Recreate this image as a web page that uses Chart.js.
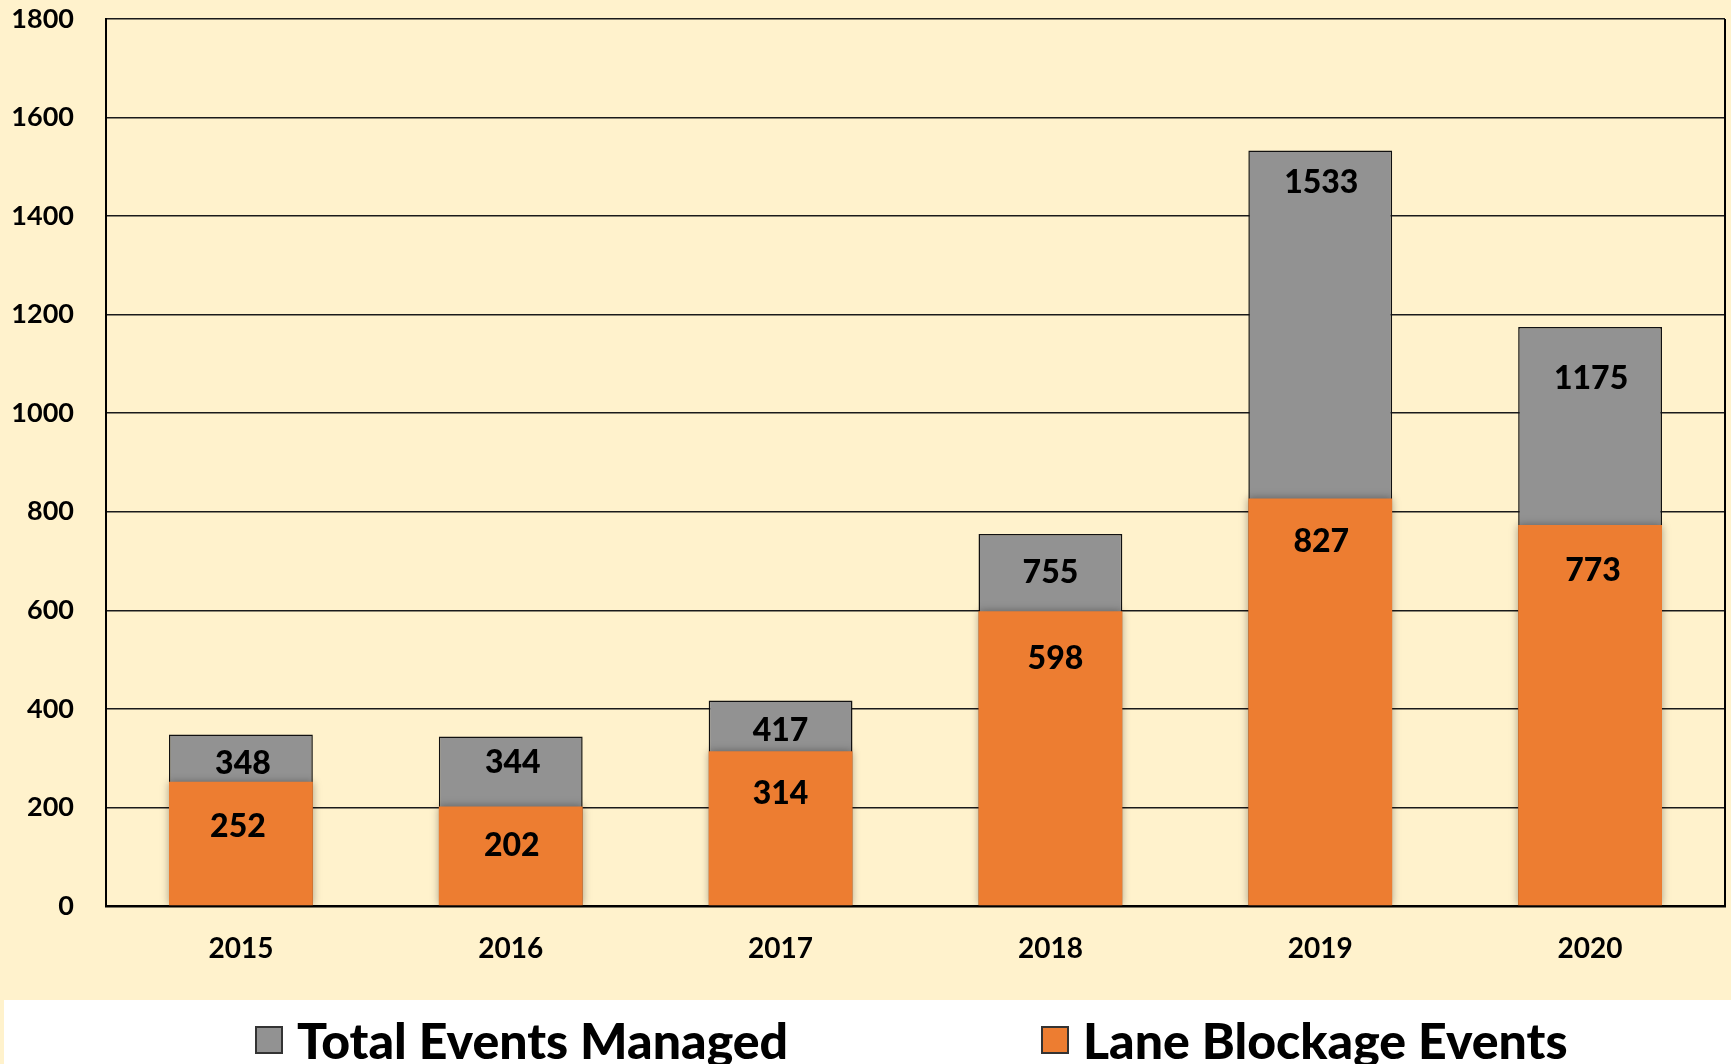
<!DOCTYPE html>
<html><head><meta charset="utf-8">
<script src="https://cdn.jsdelivr.net/npm/chart.js@4.4.0/dist/chart.umd.min.js"></script>
<style>
html,body{margin:0;padding:0;background:#FFF2CC;width:1731px;height:1064px;overflow:hidden;font-family:Lato,sans-serif;}
#wrap{position:absolute;left:0;top:0;width:1731px;height:1000px;}
#legend{position:absolute;left:4px;top:1000px;width:1727px;height:64px;background:#fff;overflow:hidden;}
.item{position:absolute;top:10px;height:60px;display:flex;align-items:center;font-weight:900;font-size:50px;color:#000;white-space:nowrap;}
.box{width:28px;height:28px;border:2px solid #333;margin-right:14px;box-sizing:border-box;}
</style></head>
<body>
<div id="wrap"><canvas id="c" width="1731" height="1000"></canvas></div>
<div id="legend"></div>
<script>
const categories = ['2015','2016','2017','2018','2019','2020'];
const totalEvents = [348, 344, 417, 755, 1533, 1175];
const laneBlockage = [252, 202, 314, 598, 827, 773];
const seriesNames = ['Total Events Managed', 'Lane Blockage Events'];
const seriesColors = ['#929292', '#ED7D31'];
const yMax = 1800, yStep = 200;

const labelPlugin = {
  id: 'valueLabels',
  afterDatasetsDraw(chart, args, opts) {
    const ctx = chart.ctx;
    ctx.save();
    ctx.font = '900 32px Lato';
    ctx.fillStyle = '#000';
    ctx.textAlign = 'center';
    ctx.textBaseline = 'middle';
    chart.data.datasets.forEach((ds, i) => {
      const meta = chart.getDatasetMeta(i);
      const dy = opts.dy[i], dx = opts.dx[i];
      meta.data.forEach((bar, j) => {
        ctx.fillText(String(ds.data[j]), bar.x + dx[j], bar.y + dy[j]);
      });
    });
    ctx.restore();
  }
};
const framePlugin = {
  id: 'frame',
  beforeDatasetDraw(chart, args) {
    if (args.index === 1) {
      const ctx = chart.ctx;
      ctx.save();
      ctx.shadowColor = 'rgba(0,0,0,0.35)';
      ctx.shadowBlur = 8;
    }
  },
  afterDatasetDraw(chart, args) {
    if (args.index === 1) chart.ctx.restore();
  },
  afterDraw(chart) {
    const {ctx, chartArea} = chart;
    ctx.save();
    ctx.strokeStyle = '#000';
    ctx.lineWidth = 2;
    ctx.beginPath();
    ctx.moveTo(chartArea.right, chartArea.top);
    ctx.lineTo(chartArea.right, chartArea.bottom);
    ctx.stroke();
    ctx.restore();
  }
};

new Chart(document.getElementById('c'), {
  type: 'bar',
  data: {
    labels: categories,
    datasets: [
      { label: seriesNames[0], data: totalEvents, backgroundColor: seriesColors[0], borderColor: '#111', borderWidth: 1.5, order: 2, grouped: false },
      { label: seriesNames[1], data: laneBlockage, backgroundColor: seriesColors[1], borderWidth: 0, order: 1, grouped: false }
    ]
  },
  options: {
    responsive: false,
    devicePixelRatio: 1,
    animation: false,
    layout: { padding: { top: 19, right: 6, left: 0, bottom: 0 } },
    datasets: { bar: { categoryPercentage: 1, barPercentage: 0.533 } },
    plugins: {
      legend: { display: false }, tooltip: { enabled: false },
      valueLabels: {
        dy: [[29, 26, 30, 39, 32, 52], [45, 39, 42, 47, 43, 46]],
        dx: [[2, 2, 0, 0, 1, 1], [-3, 1, 0, 5, 1, 3]]
      }
    },
    scales: {
      x: {
        grid: { display: false, drawTicks: false },
        border: { display: true, color: '#000', width: 2.5 },
        ticks: { color: '#000', font: { family: 'Lato', weight: 'bold', size: 28 }, padding: 26 },
        afterFit(s) { s.height = 94; s.paddingLeft = 0; s.paddingRight = 0; }
      },
      y: {
        min: 0, max: yMax,
        grid: { color: '#1a1a1a', lineWidth: 1.5, drawTicks: false },
        border: { display: true, color: '#000', width: 2 },
        ticks: { stepSize: yStep, color: '#000', font: { family: 'Lato', weight: 'bold', size: 27 }, padding: 32,
                 callback: (v) => String(v) },
        afterFit(s) { s.width = 106; s.paddingTop = 0; s.paddingBottom = 0; }
      }
    }
  },
  plugins: [labelPlugin, framePlugin]
});

const legend = document.getElementById('legend');
const lefts = [251, 1037];
seriesNames.forEach((n, i) => {
  const it = document.createElement('div');
  it.className = 'item';
  it.style.left = lefts[i] + 'px';
  const b = document.createElement('div');
  b.className = 'box';
  b.style.background = seriesColors[i];
  const t = document.createElement('span');
  t.textContent = n;
  it.appendChild(b); it.appendChild(t);
  legend.appendChild(it);
});
</script>
</body></html>
